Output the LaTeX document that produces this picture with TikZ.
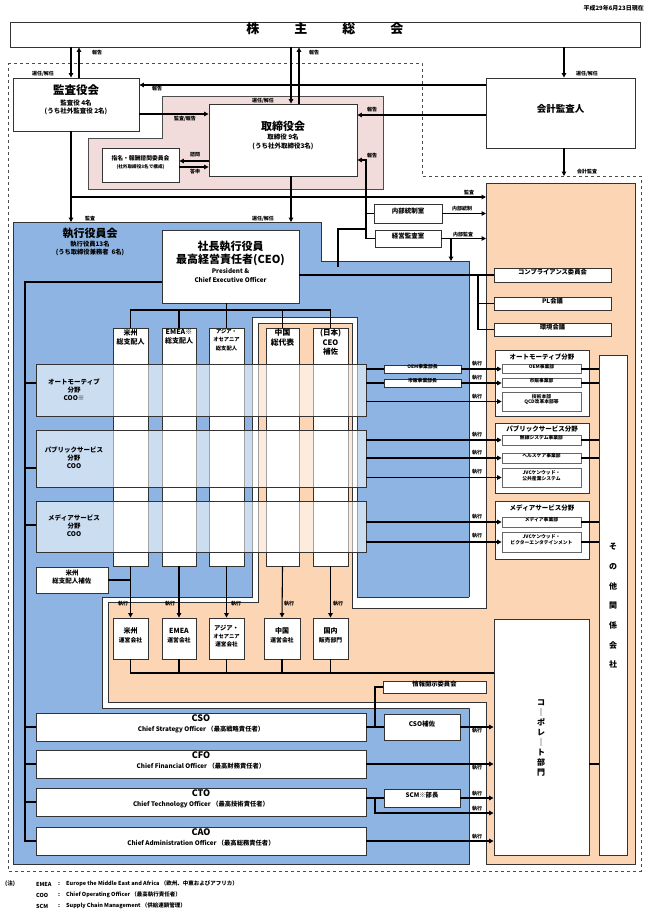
\documentclass[tikz,border=0pt]{standalone}
\usepackage{fontspec}
\setmainfont{Noto Sans CJK JP}
\usetikzlibrary{arrows.meta,fit}
\definecolor{bl}{HTML}{8DB4E2}
\definecolor{pc}{HTML}{FCD5B4}
\definecolor{pk}{HTML}{F2DCDB}
\definecolor{ln}{HTML}{333333}
\newcommand\fs[2]{\fontsize{#1}{#2}\selectfont}
\tikzset{
  box/.style={draw=ln, line width=0.9pt, fill=white, inner sep=0pt, align=center, font=\bfseries},
  subbox/.style={box, draw=gray!80!black, line width=0.7pt, font=\bfseries\fs{4.8}{5.8}},
  txt/.style={inner sep=0pt, align=center, font=\bfseries},
  lbl/.style={inner sep=0pt, font=\bfseries\fs{5}{6}},
  con/.style={line width=1.1pt},
  arr/.style={line width=1.1pt, -{Triangle[length=4.5pt,width=4.5pt]}},
  coo/.style={box, fill opacity=0.55, text opacity=1, draw opacity=1},
}
\begin{document}
\begin{tikzpicture}[x=1pt,y=-1pt]
\useasboundingbox (0,0) rectangle (648,911);
% ---------- background regions
\draw[dashed, gray!60!black, line width=0.8pt] (8,63) -- (422,63) -- (422,176) -- (641,176) -- (641,871) -- (8,871) -- cycle;
\draw[fill=pk, draw=gray!60!black, line width=0.8pt] (162,96) -- (383,96) -- (383,189) -- (88,189) -- (88,138) -- (162,138) -- cycle;
\draw[fill=bl, draw=ln, line width=0.9pt] (13,222) -- (321,222) -- (321,261) -- (469,261) -- (469,864) -- (13,864) -- cycle;
\fill[white] (252,317) -- (357,317) -- (357,597) -- (475,597) -- (475,708) -- (102,708) -- (102,597) -- (252,597) -- cycle;
\draw[ln, line width=0.9pt] (469,597) -- (357,597) -- (357,317) -- (252,317) -- (252,597) -- (102,597) -- (102,708) -- (469,708);
\draw[fill=pc, draw=ln, line width=0.9pt] (258,323) -- (352,323) -- (352,608) -- (486,608) -- (486,183) -- (635,183) -- (635,864) -- (486,864) -- (486,702) -- (108,702) -- (108,602) -- (258,602) -- cycle;

% ---------- top
\node[txt, anchor=east, font=\bfseries\fs{6}{7}] (date) at (644,8) {平成29年6月23日現在};
\node[box, fit={(10,22) (640,47)}, font=\bfseries\fs{13}{14}] (kabu) {株\hspace{35pt}主\hspace{35pt}総\hspace{35pt}会};
\node[box, fit={(13,78) (139,131)}, font=\bfseries\fs{6.5}{8}] (kansa) {{\fs{11.5}{13}監査役会}\\[3pt]監査役 4名\\(うち社外監査役 2名)};
\node[box, fit={(209,104) (357,176)}, font=\bfseries\fs{6.5}{9}] (tori) {{\fs{11}{12}取締役会}\\取締役 9名\\(うち社外取締役3名)};
\node[box, fit={(102,148) (179,182)}, font=\bfseries\fs{4.6}{7.5}] (shimei) {{\fs{5.8}{7}指名・報酬諮問委員会}\\(社外取締役3名で構成)};
\node[box, fit={(486,78) (635,148)}, font=\bfseries\fs{9.5}{11}] (kaikei) {会計監査人};
\node[box, fit={(374,204) (442,223)}, font=\bfseries\fs{6.5}{7.5}] (naibu) {内部統制室};
\node[box, fit={(375,230) (441,247)}, font=\bfseries\fs{6.5}{7.5}] (keiei) {経営監査室};
\node[box, fit={(494,268) (611,282)}, font=\bfseries\fs{6.3}{7.5}] (comp) {コンプライアンス委員会};
\node[box, fit={(494,297) (611,310)}, font=\bfseries\fs{6.3}{7.5}] (pl) {PL会議};
\node[box, fit={(494,323) (611,336)}, font=\bfseries\fs{6.3}{7.5}] (kankyo) {環境会議};

% ---------- executive area
\node[txt, font=\bfseries\fs{6.3}{8}] (yakuin) at (90,242) {{\fs{11}{12}執行役員会}\\[1pt]執行役員13名\\(うち取締役兼務者\ \ 6名)};
\node[box, fit={(162,230) (299,303)}, font=\bfseries\fs{6.3}{9}] (ceo) {{\fs{11}{11}社長執行役員}\\[1.5pt]{\fs{11}{11}最高経営責任者(CEO)}\\[1pt]President \&\\Chief Executive Officer};

\node[box, fit={(113,328) (148,566)}] (c1) {};
\node[box, fit={(162,328) (196,566)}] (c2) {};
\node[box, fit={(209,328) (244,566)}] (c3) {};
\node[box, fit={(266,328) (299,566)}] (c4) {};
\node[box, fit={(313,328) (348,566)}] (c5) {};
\node[txt, anchor=north, font=\bfseries\fs{7}{9.5}] (c1t) at (130.5,329) {米州\\総支配人};
\node[txt, anchor=north, font=\bfseries\fs{7}{9.5}] (c2t) at (179,329) {EMEA※\\総支配人};
\node[txt, anchor=north, font=\bfseries\fs{5.3}{8.3}] (c3t) at (226.5,329) {アジア・\\オセアニア\\総支配人};
\node[txt, anchor=north, font=\bfseries\fs{7.8}{10}] (c4t) at (282.5,329) {中国\\総代表};
\node[txt, anchor=north, font=\bfseries\fs{7.5}{9.5}] (c5t) at (330.5,329) {(日本)\\CEO\\補佐};

\node[coo, fit={(36,364) (366,416)}] (auto) {};
\node[coo, fit={(36,430) (366,487)}] (pub) {};
\node[coo, fit={(36,501) (366,552)}] (media) {};
\node[txt, font=\bfseries\fs{6.5}{8}] (autot) at (74,390) {オートモーティブ\\分野\\COO※};
\node[txt, font=\bfseries\fs{6.5}{8}] (pubt) at (74,458) {パブリックサービス\\分野\\COO};
\node[txt, font=\bfseries\fs{6.5}{8}] (mediat) at (74,526) {メディアサービス\\分野\\COO};

\node[box, fit={(36,567) (108,593)}, font=\bfseries\fs{6.5}{8.5}] (hosa) {米州\\総支配人補佐};

\node[box, fit={(113,618) (148,659)}, font=\bfseries\fs{5.8}{9}] (o1) {{\fs{7}{9}米州}\\運営会社};
\node[box, fit={(162,618) (196,659)}, font=\bfseries\fs{5.8}{9}] (o2) {{\fs{7}{9}EMEA}\\運営会社};
\node[box, fit={(209,618) (244,659)}, font=\bfseries\fs{5.6}{8}] (o3) {{\fs{6.3}{8}アジア・}\\{\fs{5.3}{7}オセアニア}\\運営会社};
\node[box, fit={(264,618) (300,659)}, font=\bfseries\fs{5.8}{9}] (o4) {{\fs{7}{9}中国}\\運営会社};
\node[box, fit={(313,618) (348,659)}, font=\bfseries\fs{5.8}{9}] (o5) {{\fs{7}{9}国内}\\販売部門};

\node[box, fit={(383,681) (486,693)}, font=\bfseries\fs{6.3}{7.5}] (joho) {情報開示委員会};
\node[box, fit={(36,713) (366,741)}, font=\bfseries\fs{6.3}{10}] (cso) {{\fs{9}{10}CSO}\\Chief Strategy Officer （最高戦略責任者）};
\node[box, fit={(36,750) (366,778)}, font=\bfseries\fs{6.3}{10}] (cfo) {{\fs{9}{10}CFO}\\Chief Financial Officer （最高財務責任者）};
\node[box, fit={(36,788) (366,816)}, font=\bfseries\fs{6.3}{10}] (cto) {{\fs{9}{10}CTO}\\Chief Technology Officer （最高技術責任者）};
\node[box, fit={(36,827) (366,855)}, font=\bfseries\fs{6.3}{10}] (cao) {{\fs{9}{10}CAO}\\Chief Administration Officer （最高総務責任者）};
\node[box, fit={(384,714) (460,740)}, font=\bfseries\fs{6.5}{7.5}] (csohosa) {CSO補佐};
\node[box, fit={(384,789) (460,807)}, font=\bfseries\fs{6.3}{7.5}] (scm) {SCM※部長};

% ---------- right column
\node[box, fit={(494,619) (589,855)}] (corp) {};
\node[txt, font=\bfseries\fs{8}{10}] (corpt) at (541,738) {コ\\｜\\ポ\\レ\\｜\\ト\\部\\門};
\node[box, fit={(599,355) (627,855)}] (sonota) {};
\node[txt, font=\bfseries\fs{8}{19.7}] (sonotat) at (613,606) {そ\\の\\他\\関\\係\\会\\社};

\node[box, fit={(495,350) (589,416)}] (gauto) {};
\node[txt, font=\bfseries\fs{6.5}{7.5}] (gautot) at (542,356.5) {オートモーティブ分野};
\node[subbox, fit={(502,364.5) (581,373.5)}] (oem) {OEM事業部};
\node[subbox, fit={(502,378.5) (581,387.5)}] (shihan) {市販事業部};
\node[subbox, fit={(502,392) (581,411)}] (gijutsu) {技術本部\\QCD改革本部等};
\node[box, fit={(495,423) (589,493)}] (gpub) {};
\node[txt, font=\bfseries\fs{6.5}{7.5}] (gpubt) at (542,428.5) {パブリックサービス分野};
\node[subbox, fit={(502,435) (581,445)}] (musen) {無線システム事業部};
\node[subbox, fit={(502,453) (581,463)}] (health) {ヘルスケア事業部};
\node[subbox, fit={(502,468) (581,487)}] (jvcpub) {JVCケンウッド・\\公共産業システム};
\node[box, fit={(495,501) (589,559)}] (gmedia) {};
\node[txt, font=\bfseries\fs{6.5}{7.5}] (gmediat) at (542,508) {メディアサービス分野};
\node[subbox, fit={(502,517) (581,527)}] (mediaj) {メディア事業部};
\node[subbox, fit={(502,532) (581,552)}] (victor) {JVCケンウッド・\\ビクターエンタテインメント};
\node[subbox, draw=ln, fit={(384,365) (461,373)}] (oemc) {OEM事業部長};
\node[subbox, draw=ln, fit={(384,379) (461,387)}] (shihanc) {市販事業部長};

% ---------- free ends
\coordinate (kaikeiE) at (564,176);
\coordinate (blueA) at (71,222);
\coordinate (blueB) at (291,222);
\coordinate (peach1) at (486,197);
\coordinate (peach2) at (486,213.5);
\coordinate (peach3) at (486,238.5);
\coordinate (blueC) at (451,261);

% ---------- connectors (top)
\draw[arr] (kabu.south -| 71,0) -- (kansa.north -| 71,0);
\draw[arr] (kansa.north -| 79,0) -- (kabu.south -| 79,0);
\draw[arr] (kabu.south -| 291,0) -- (tori.north -| 291,0);
\draw[arr] (tori.north -| 299,0) -- (kabu.south -| 299,0);
\draw[arr] (kabu.south -| 564,0) -- (kaikei.north -| 564,0);
\draw[arr] (kaikei.west |- 0,85) -- (kansa.east |- 0,85);
\draw[arr] (kaikei.west |- 0,115) -- (tori.east |- 0,115);
\draw[arr] (kansa.east |- 0,114) -- (tori.west |- 0,114);
\draw[arr] (tori.west |- 0,161) -- (shimei.east |- 0,161);
\draw[arr] (shimei.east |- 0,167) -- (tori.west |- 0,167);
\draw[arr] (kaikei.south -| 564,0) -- (kaikeiE);
\draw[arr] (kansa.south -| 71,0) -- (blueA);
\draw[arr] (kansa.south -| 71,0) |- (peach1);
\draw[arr] (tori.south -| 291,0) -- (blueB);
\draw[arr] (keiei.west) -| (366,160) -- (tori.east |- 0,160);
\draw[con] (naibu.west) -- (naibu.west -| 366,0);
\draw[con] (366,229) -| (ceo.east -| 338,275);
\draw[arr] (naibu.east) -- (peach2);
\draw[arr] (keiei.east) -- (peach3);
\draw[arr] (keiei.east -| 451,0) -- (blueC);
\draw[con] (ceo.east |- 0,275) -- (comp.west);
\draw[con] (comp.west -| 478,0) |- (kankyo.west);
\draw[con] (pl.west -| 478,0) -- (pl.west);

% ---------- CEO tree
\draw[con] (ceo.west |- 0,282) -| (cao.west -| 25,0) -- (cao.west);
\draw[con] (auto.west |- 0,383) -- ++(-11,0);
\draw[con] (pub.west |- 0,468) -- ++(-11,0);
\draw[con] (media.west |- 0,525) -- ++(-11,0);
\draw[con] (cso.west) -- ++(-11,0);
\draw[con] (cfo.west) -- ++(-11,0);
\draw[con] (cto.west) -- ++(-11,0);
\draw[con] (ceo.south -| c3.north) -- (c3.north);
\draw[con] (c1.north) -- (c1.north |- 0,310) -- (c5.north |- 0,310) -- (c5.north);
\draw[con] (c2.north |- 0,310) -- (c2.north);
\draw[con] (c4.north |- 0,310) -- (c4.north);
\draw[arr] (c1.south) -- (o1.north);
\draw[arr] (c2.south) -- (o2.north);
\draw[arr] (c3.south) -- (o3.north);
\draw[arr] (c4.south) -- (o4.north);
\draw[arr] (c5.south) -- (o5.north);
\draw[con] (hosa.east) -- (hosa.east -| c1.south);
\draw[con] (o1.south) |- (corp.west |- 0,673);
\draw[con] (o2.south) -- (o2.south |- 0,673);
\draw[con] (o3.south) -- (o3.south |- 0,673);
\draw[con] (o4.south) -- (o4.south |- 0,673);
\draw[con] (o5.south) -- (o5.south |- 0,673);

% ---------- bottom officers
\draw[con] (cso.east) -- (csohosa.west);
\draw[con] (cso.east -| 375,0) |- (joho.west);
\draw[arr] (csohosa.east) -- (corp.west |- csohosa.east);
\draw[arr] (cfo.east) -- (corp.west |- cfo.east);
\draw[con] (cto.east |- scm.west) -- (scm.west);
\draw[arr] (scm.east) -- (corp.west |- scm.east);
\draw[arr] (scm.west -| 375,0) |- (corp.west |- 0,813);
\draw[arr] (cao.east) -- (corp.west |- cao.east);

% ---------- COO to divisions
\draw[con] (auto.east |- oemc.west) -- (oemc.west);
\draw[arr] (oemc.east) -- (oem.west);
\draw[con] (auto.east |- shihanc.west) -- (shihanc.west);
\draw[arr] (shihanc.east) -- (shihan.west);
\draw[arr] (auto.east |- gijutsu.west) -- (gijutsu.west);
\draw[arr] (pub.east |- musen.west) -- (musen.west);
\draw[arr] (pub.east |- health.west) -- (health.west);
\draw[arr] (pub.east |- jvcpub.west) -- (jvcpub.west);
\draw[arr] (media.east |- mediaj.west) -- (mediaj.west);
\draw[arr] (media.east |- victor.west) -- (victor.west);
\draw[con] (oem.east) -- (sonota.west |- oem.east);
\draw[con] (shihan.east) -- (sonota.west |- shihan.east);
\draw[con] (musen.east) -- (sonota.west |- musen.east);
\draw[con] (health.east) -- (sonota.west |- health.east);
\draw[con] (mediaj.east) -- (sonota.west |- mediaj.east);
\draw[con] (victor.east) -- (sonota.west |- victor.east);
\draw[con] (corp.east |- 0,764) -- (sonota.west |- 0,764);

% ---------- labels
\node[lbl] (l1) at (43,74) {選任/解任};
\node[lbl] (l2) at (97,53) {報告};
\node[lbl] (l3) at (157,89) {報告};
\node[lbl] (l4) at (185,119) {監査/報告};
\node[lbl] (l5) at (263,101) {選任/解任};
\node[lbl] (l6) at (314,53) {報告};
\node[lbl] (l7) at (195,155) {諮問};
\node[lbl] (l8) at (195,172) {答申};
\node[lbl] (l9) at (372,110) {報告};
\node[lbl] (l10) at (372,156) {報告};
\node[lbl] (l11) at (587,74) {選任/解任};
\node[lbl] (l12) at (587,172) {会計監査};
\node[lbl] (l13) at (469,193) {監査};
\node[lbl] (l14) at (462,209) {内部統制};
\node[lbl] (l15) at (463,234.5) {内部監査};
\node[lbl] (l16) at (90,219) {監査};
\node[lbl] (l17) at (263,219) {選任/解任};
\foreach \yy [count=\i] in {364,378,397,435,453,472,517,536}
  \node[lbl] (ex\i) at (477,\yy) {執行};
\foreach \xx [count=\i] in {123,170,236,289,338}
  \node[lbl] (ec\i) at (\xx,604) {執行};
\foreach \yy [count=\i] in {731,768,794,809,837}
  \node[lbl] (eb\i) at (477,\yy) {執行};

% ---------- notes
\node[txt, anchor=west, font=\bfseries\fs{5.5}{6.5}] (n0) at (5,884) {(注)};
\node[txt, anchor=west, font=\bfseries\fs{5.5}{6.5}] (n1a) at (36,884) {EMEA};
\node[txt, anchor=west, font=\bfseries\fs{5.5}{6.5}] (n1b) at (58,884) {:};
\node[txt, anchor=west, font=\bfseries\fs{5.5}{6.5}] (n1c) at (66,884) {Europe the Middle East and Africa （欧州、中東およびアフリカ）};
\node[txt, anchor=west, font=\bfseries\fs{5.5}{6.5}] (n2a) at (36,895) {COO};
\node[txt, anchor=west, font=\bfseries\fs{5.5}{6.5}] (n2b) at (58,895) {:};
\node[txt, anchor=west, font=\bfseries\fs{5.5}{6.5}] (n2c) at (66,895) {Chief Operating Officer （最高執行責任者）};
\node[txt, anchor=west, font=\bfseries\fs{5.5}{6.5}] (n3a) at (36,906) {SCM};
\node[txt, anchor=west, font=\bfseries\fs{5.5}{6.5}] (n3b) at (58,906) {:};
\node[txt, anchor=west, font=\bfseries\fs{5.5}{6.5}] (n3c) at (66,906) {Supply Chain Management （供給連鎖管理）};
\end{tikzpicture}
\end{document}
